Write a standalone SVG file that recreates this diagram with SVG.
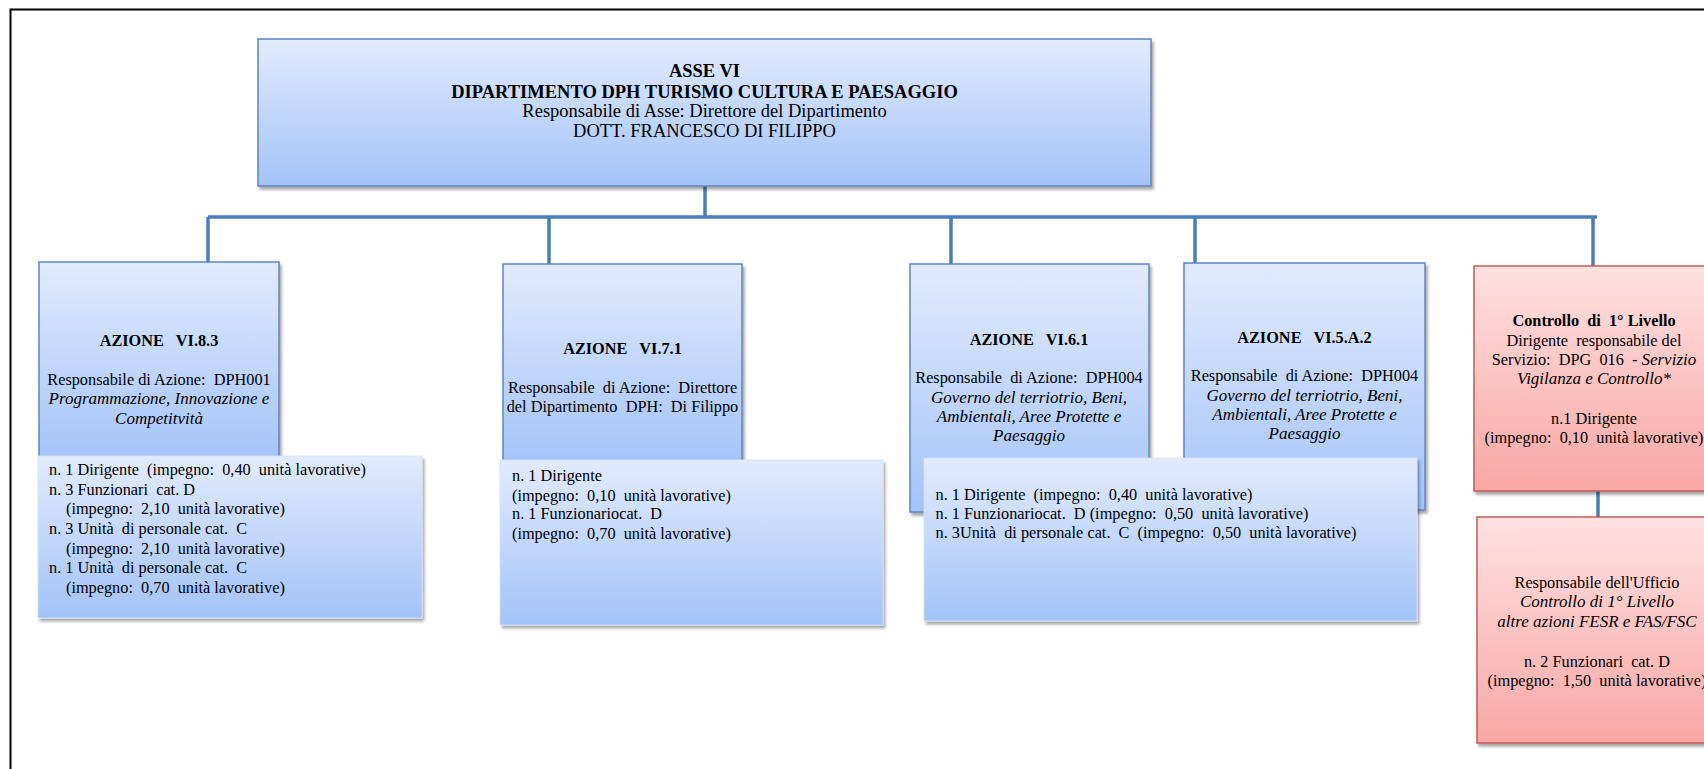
<svg xmlns="http://www.w3.org/2000/svg" width="1704" height="769" viewBox="0 0 1704 769" xml:space="preserve">
<defs>
<linearGradient id="gBlue" x1="0" y1="0" x2="0" y2="1"><stop offset="0" stop-color="#E2EBFD"/><stop offset="1" stop-color="#A3C3F8"/></linearGradient>
<linearGradient id="gRed" x1="0" y1="0" x2="0" y2="1"><stop offset="0" stop-color="#FFE1E1"/><stop offset="1" stop-color="#F8A7A4"/></linearGradient>
<filter id="sh" x="-5%" y="-5%" width="115%" height="120%"><feDropShadow dx="2" dy="3" stdDeviation="1.8" flood-color="#000" flood-opacity="0.35"/></filter>
<style>
.bx{fill:url(#gBlue);stroke:#5B87C5;stroke-width:1.5;filter:url(#sh)}
.lb{fill:url(#gBlue);stroke:#D6E2F8;stroke-width:0.8;filter:url(#sh)}
.rx{fill:url(#gRed);stroke:#C65A57;stroke-width:1.5;filter:url(#sh)}
.ln{stroke:#4A7EBB;stroke-width:3.5;fill:none}
text{font-family:"Liberation Serif","Times New Roman",serif;font-size:16.3px;fill:#000;white-space:pre}
.h{font-size:18.5px}
.b{font-weight:bold}
.i{font-style:italic;font-size:17px}
.c{text-anchor:middle}
</style>
</defs>
<rect x="10.5" y="9.5" width="1720" height="790" fill="none" stroke="#000" stroke-width="2"/>
<g id="connectors">
<path class="ln" d="M705 186V217M208 217H1597M208 217V262M549 217V264M951 217V264M1195 217V263M1593 217V266M1598 491V517"/>
</g>
<g id="asse">
<rect class="bx" x="258" y="39" width="893" height="147"/>
<text class="h b c" x="704.5" y="77">ASSE VI</text>
<text class="h b c" x="704.5" y="97.5">DIPARTIMENTO DPH TURISMO CULTURA E PAESAGGIO</text>
<text class="h c" x="704.5" y="117">Responsabile di Asse: Direttore del Dipartimento</text>
<text class="h c" x="704.5" y="137">DOTT. FRANCESCO DI FILIPPO</text>
</g>
<g id="azione-8-3">
<rect class="bx" x="39" y="262" width="240" height="200"/>
<text class="b c" x="159" y="346">AZIONE   VI.8.3</text>
<text class="c" x="159" y="385">Responsabile di Azione:  DPH001</text>
<text class="i c" x="159" y="404">Programmazione, Innovazione e</text>
<text class="i c" x="159" y="424">Competitvità</text>
</g>
<g id="azione-7-1">
<rect class="bx" x="503" y="264" width="239" height="202"/>
<text class="b c" x="622.5" y="354">AZIONE   VI.7.1</text>
<text class="c" x="622.5" y="393">Responsabile  di Azione:  Direttore</text>
<text class="c" x="622.5" y="412">del Dipartimento  DPH:  Di Filippo</text>
</g>
<g id="azione-6-1">
<rect class="bx" x="910" y="264" width="239" height="248"/>
<text class="b c" x="1029" y="345">AZIONE   VI.6.1</text>
<text class="c" x="1029" y="383">Responsabile  di Azione:  DPH004</text>
<text class="i c" x="1029" y="403">Governo del terriotrio, Beni,</text>
<text class="i c" x="1029" y="422">Ambientali, Aree Protette e</text>
<text class="i c" x="1029" y="441">Paesaggio</text>
</g>
<g id="azione-5-a-2">
<rect class="bx" x="1184" y="263" width="241" height="247"/>
<text class="b c" x="1304.5" y="343">AZIONE   VI.5.A.2</text>
<text class="c" x="1304.5" y="381">Responsabile  di Azione:  DPH004</text>
<text class="i c" x="1304.5" y="401">Governo del terriotrio, Beni,</text>
<text class="i c" x="1304.5" y="420">Ambientali, Aree Protette e</text>
<text class="i c" x="1304.5" y="439">Paesaggio</text>
</g>
<g id="personale-8-3">
<rect class="lb" x="38" y="456" width="384" height="162"/>
<text x="49" y="475">n. 1 Dirigente  (impegno:  0,40  unità lavorative)</text>
<text x="49" y="495">n. 3 Funzionari  cat. D</text>
<text x="66" y="514">(impegno:  2,10  unità lavorative)</text>
<text x="49" y="534">n. 3 Unità  di personale cat.  C</text>
<text x="66" y="554">(impegno:  2,10  unità lavorative)</text>
<text x="49" y="573">n. 1 Unità  di personale cat.  C</text>
<text x="66" y="593">(impegno:  0,70  unità lavorative)</text>
</g>
<g id="personale-7-1">
<rect class="lb" x="500" y="460" width="383" height="165"/>
<text x="512" y="481">n. 1 Dirigente</text>
<text x="512" y="501">(impegno:  0,10  unità lavorative)</text>
<text x="512" y="519">n. 1 Funzionariocat.  D</text>
<text x="512" y="539">(impegno:  0,70  unità lavorative)</text>
</g>
<g id="personale-6-1-5-a-2">
<rect class="lb" x="924" y="458" width="493" height="163"/>
<text x="935.5" y="500">n. 1 Dirigente  (impegno:  0,40  unità lavorative)</text>
<text x="935.5" y="519">n. 1 Funzionariocat.  D (impegno:  0,50  unità lavorative)</text>
<text x="935.5" y="538">n. 3Unità  di personale cat.  C  (impegno:  0,50  unità lavorative)</text>
</g>
<g id="controllo">
<rect class="rx" x="1474" y="266" width="240" height="225"/>
<text class="b c" x="1594" y="326">Controllo  di  1° Livello</text>
<text class="c" x="1594" y="346">Dirigente  responsabile del</text>
<text class="c" x="1594" y="365">Servizio:  DPG  016  - <tspan class="i">Servizio</tspan></text>
<text class="i c" x="1594" y="384">Vigilanza e Controllo*</text>
<text class="c" x="1594" y="424">n.1 Dirigente</text>
<text class="c" x="1594" y="443">(impegno:  0,10  unità lavorative)</text>
</g>
<g id="ufficio-controllo">
<rect class="rx" x="1477" y="517" width="240" height="226"/>
<text class="c" x="1597" y="588">Responsabile dell'Ufficio</text>
<text class="i c" x="1597" y="607">Controllo di 1° Livello</text>
<text class="i c" x="1597" y="627">altre azioni FESR e FAS/FSC</text>
<text class="c" x="1597" y="667">n. 2 Funzionari  cat. D</text>
<text class="c" x="1597" y="686">(impegno:  1,50  unità lavorative)</text>
</g>
</svg>
